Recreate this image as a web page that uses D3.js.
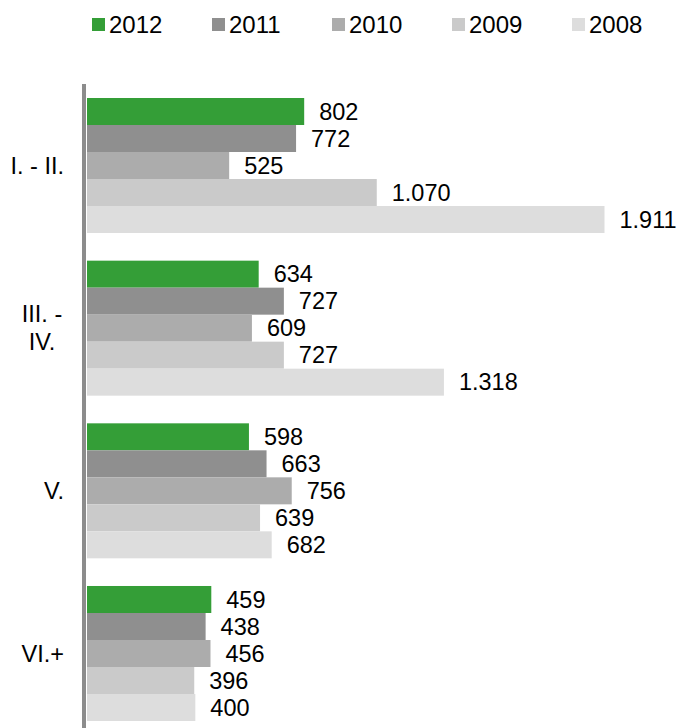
<!DOCTYPE html>
<html>
<head>
<meta charset="utf-8">
<script src="https://d3js.org/d3.v7.min.js"></script>
<style>
  body { margin: 0; background: #fff; }
  svg text { font-family: "Liberation Sans", Arial, sans-serif; fill: #000; }
</style>
</head>
<body>
<svg width="682" height="728"></svg>
<script>
// categories (each label may wrap onto two lines)
var categories = ["I. - II.", "III. - IV.", "V.", "VI.+"];
var categoryLines = [["I. - II."], ["III. -", "IV."], ["V."], ["VI.+"]];

// series, top bar first
var years = ["2012", "2011", "2010", "2009", "2008"];
var values2012 = [802, 634, 598, 459];
var values2011 = [772, 727, 663, 438];
var values2010 = [525, 609, 756, 456];
var values2009 = [1070, 727, 639, 396];
var values2008 = [1911, 1318, 682, 400];
var seriesValues = [values2012, values2011, values2010, values2009, values2008];

var colors = ["#349e37", "#8f8f8f", "#acacac", "#cacaca", "#dddddd"];

var svg = d3.select("svg");
var fmt = d3.formatLocale({ decimal: ",", thousands: ".", grouping: [3], currency: ["", ""] }).format(",d");

// x: value -> pixel, bars grow from the axis
var x = d3.scaleLinear()
  .domain([0, 1911])
  .range([87, 604.5]);

// outer band for categories, inner band for years
var y0 = d3.scaleBand()
  .domain(categories)
  .range([98, 721])
  .paddingInner(0.17)
  .paddingOuter(0);

var y1 = d3.scaleBand()
  .domain(years)
  .range([0, y0.bandwidth()])
  .padding(0);

var color = d3.scaleOrdinal().domain(years).range(colors);

// legend along the top
var legend = svg.append("g").attr("class", "legend")
  .selectAll("g")
  .data(years)
  .enter().append("g")
  .attr("transform", function(d, i) { return "translate(" + (92 + i * 120) + ",18)"; });

legend.append("rect")
  .attr("width", 13)
  .attr("height", 13)
  .style("fill", function(d) { return color(d); });

legend.append("text")
  .attr("x", 17)
  .attr("y", 6.5)
  .attr("dy", ".35em")
  .style("font-size", "24px")
  .text(function(d) { return d; });

// groups of bars
var groups = svg.append("g").attr("class", "bars")
  .selectAll("g")
  .data(categories)
  .enter().append("g")
  .attr("transform", function(d) { return "translate(0," + y0(d) + ")"; });

groups.selectAll("rect")
  .data(function(d, ci) { return years.map(function(yr, si) { return { year: yr, value: seriesValues[si][ci] }; }); })
  .enter().append("rect")
  .attr("x", x(0))
  .attr("y", function(d) { return y1(d.year); })
  .attr("width", function(d) { return x(d.value) - x(0); })
  .attr("height", y1.bandwidth())
  .style("fill", function(d) { return color(d.year); });

groups.selectAll("text.value")
  .data(function(d, ci) { return years.map(function(yr, si) { return { year: yr, value: seriesValues[si][ci] }; }); })
  .enter().append("text")
  .attr("class", "value")
  .attr("x", function(d) { return x(d.value) + 15; })
  .attr("y", function(d) { return y1(d.year) + y1.bandwidth() / 2; })
  .attr("dy", ".35em")
  .style("font-size", "23.5px")
  .text(function(d) { return fmt(d.value); });

// category labels on the left
var catLabels = svg.append("g").attr("class", "categories")
  .selectAll("text")
  .data(categories)
  .enter().append("text")
  .style("font-size", "23.5px")
  .attr("text-anchor", function(d, i) { return categoryLines[i].length > 1 ? "middle" : "end"; })
  .attr("transform", function(d, i) {
    var cx = categoryLines[i].length > 1 ? 42 : 64;
    return "translate(" + cx + "," + (y0(d) + y0.bandwidth() / 2) + ")";
  });

catLabels.selectAll("tspan")
  .data(function(d, i) { return categoryLines[i].map(function(t, j) { return { t: t, j: j, n: categoryLines[i].length }; }); })
  .enter().append("tspan")
  .attr("x", 0)
  .attr("y", function(d) { return (d.j - (d.n - 1) / 2) * 28; })
  .attr("dy", ".35em")
  .text(function(d) { return d.t; });

// vertical axis line
svg.append("line")
  .attr("x1", 84).attr("x2", 84)
  .attr("y1", 84).attr("y2", 728)
  .style("stroke", "#8c8c8c")
  .style("stroke-width", 4);
</script>
</body>
</html>
